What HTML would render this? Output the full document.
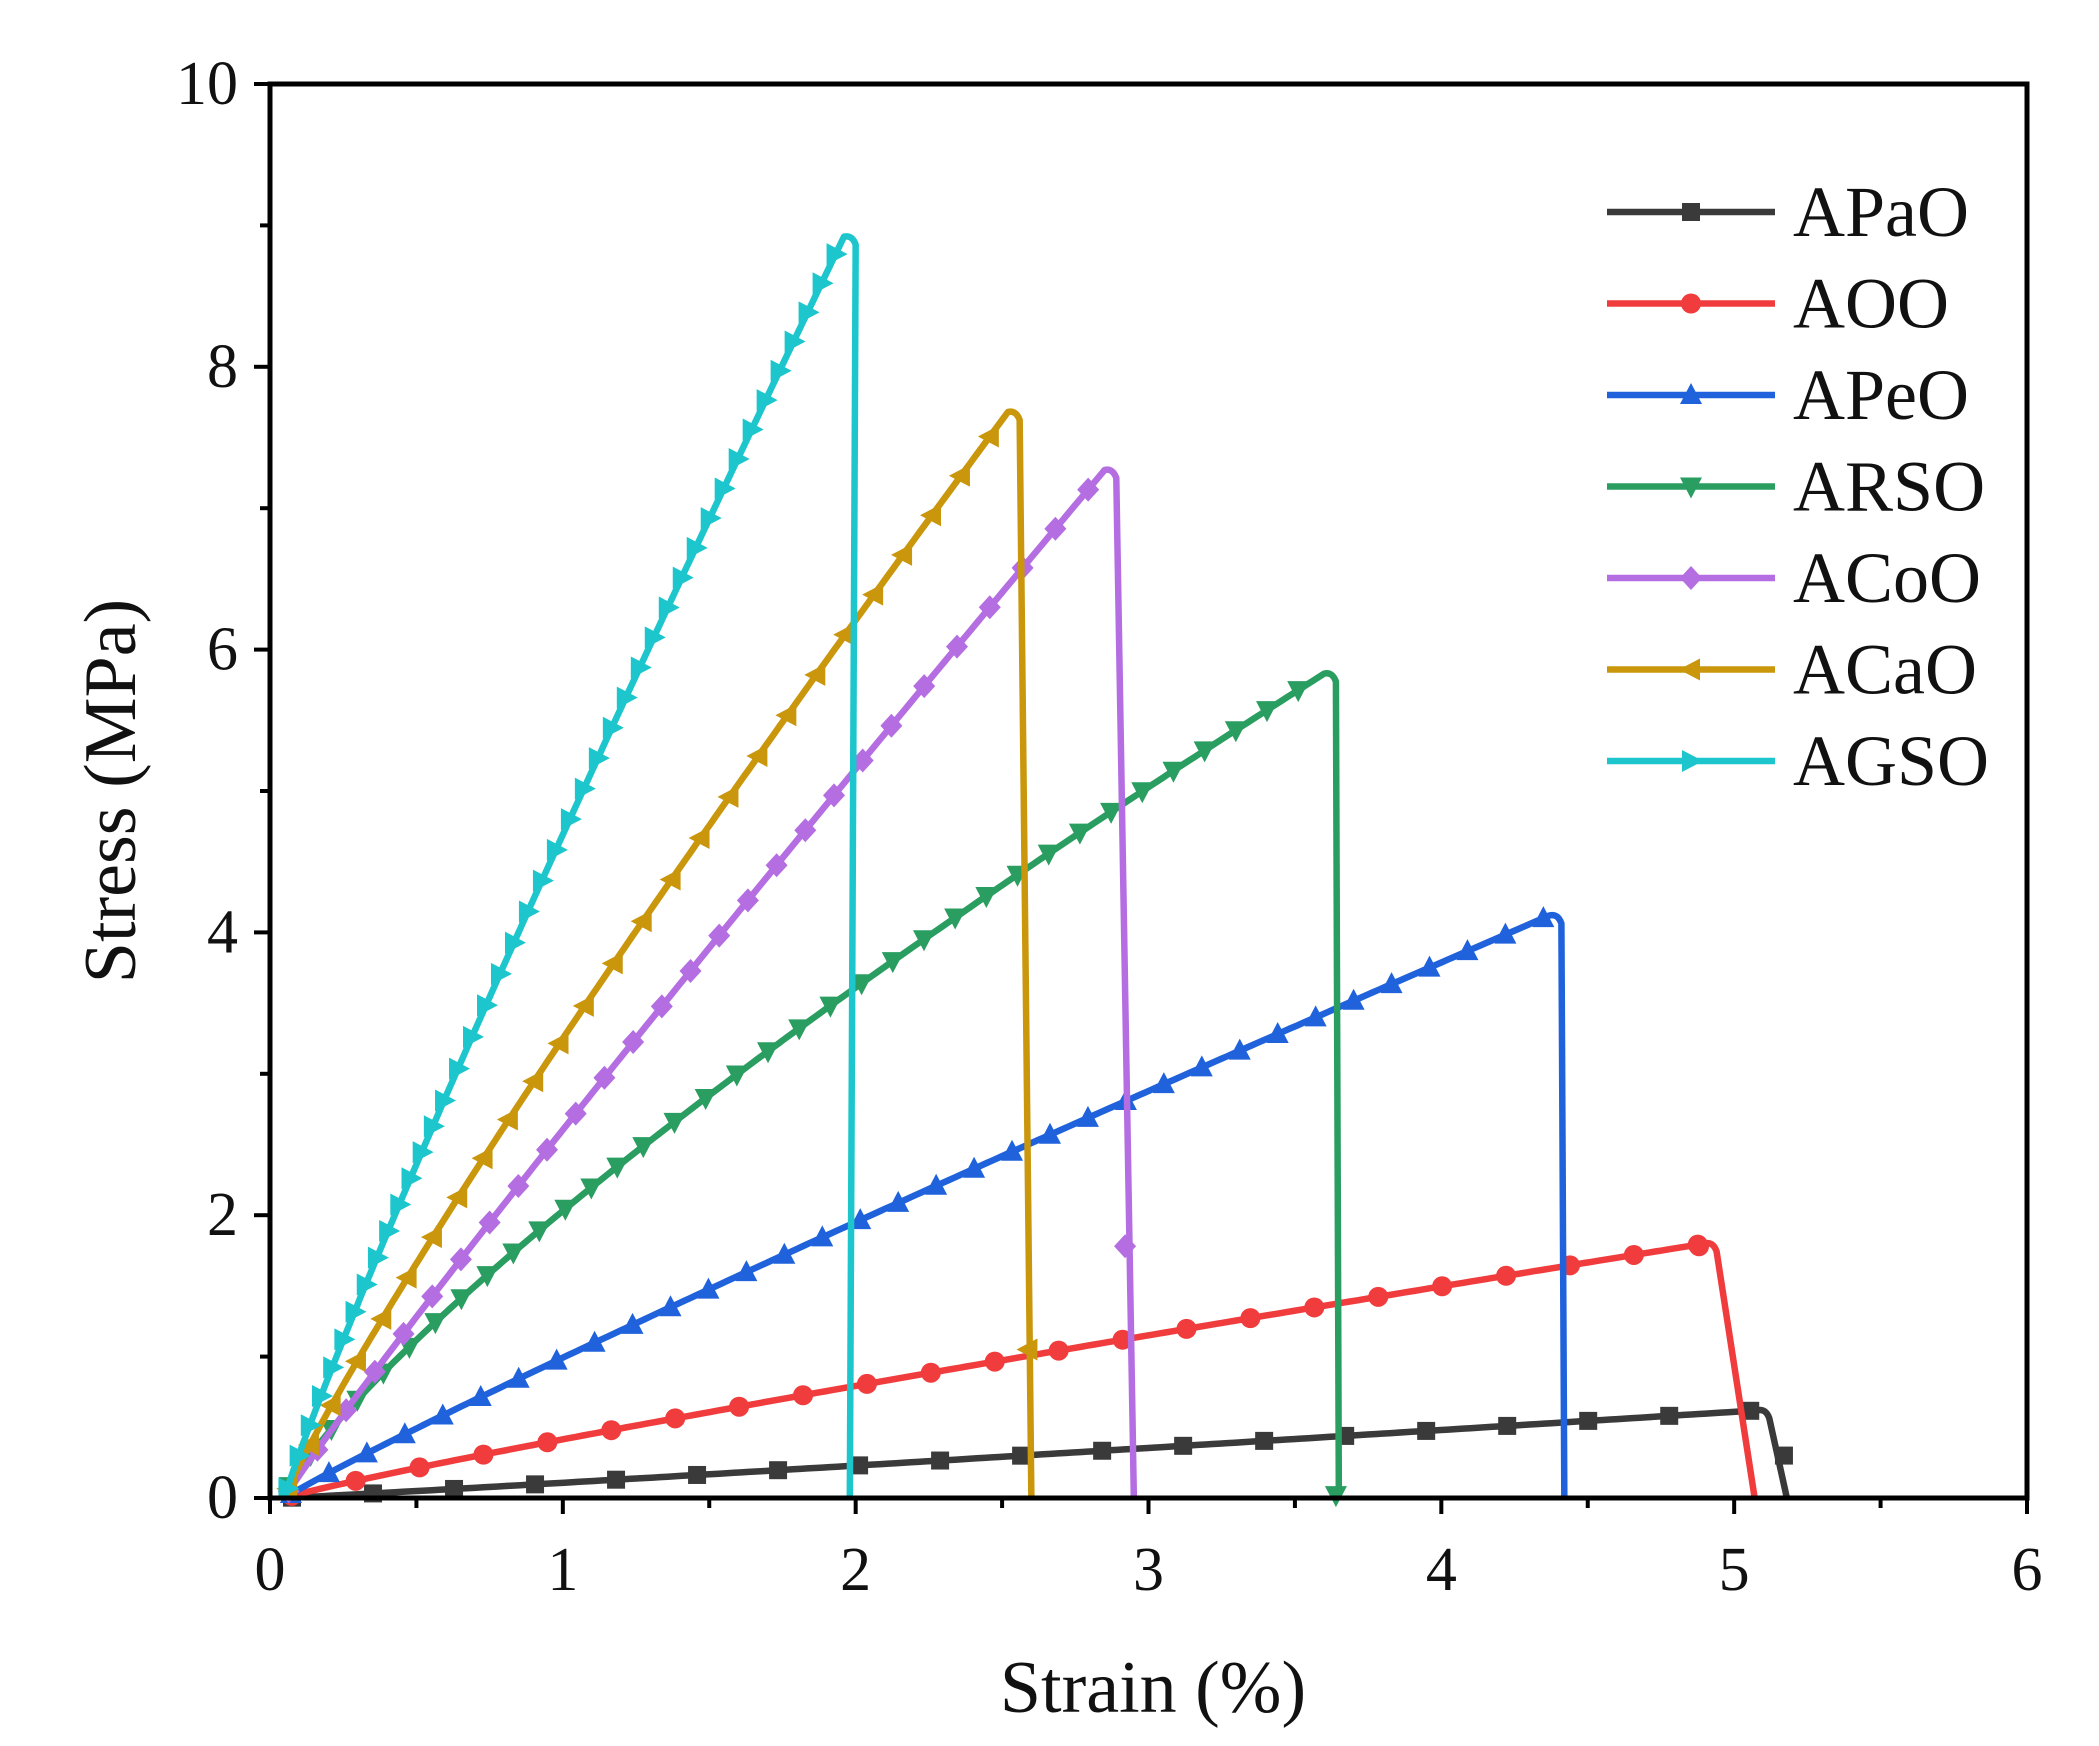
<!DOCTYPE html>
<html><head><meta charset="utf-8"><style>
html,body{margin:0;padding:0;background:#fff}
svg{display:block}
text{font-family:"Liberation Serif",serif;fill:#111}
</style></head><body>
<svg id="s" width="2099" height="1746" xmlns="http://www.w3.org/2000/svg">
<rect width="2099" height="1746" fill="#fff"/>
<g id="plot"></g>
<rect x="270" y="84" width="1757" height="1414" fill="none" stroke="#000" stroke-width="5"/>
<g id="ticks" stroke="#000" stroke-width="4"></g>
<g id="labels" font-size="62"></g>
<text x="1153" y="1712" font-size="74" text-anchor="middle">Strain (%)</text>
<text transform="translate(135,791) rotate(-90)" font-size="74" text-anchor="middle">Stress (MPa)</text>
<g id="legend" font-size="72"></g>
</svg>
<script>
const X0=270,X1=2027,Y0=1498,Y1=84;
const sx=x=>X0+x*(X1-X0)/6, sy=y=>Y0-y*(Y0-Y1)/10;
const NS="http://www.w3.org/2000/svg";
function el(t,a,p){const e=document.createElementNS(NS,t);for(const k in a)e.setAttribute(k,a[k]);p.appendChild(e);return e;}
const T=document.getElementById('ticks'),L=document.getElementById('labels');
for(let i=0;i<=12;i++){const x=sx(i/2),len=i%2?10:16;el('line',{x1:x,y1:Y0,x2:x,y2:Y0+len},T);}
for(let i=0;i<=6;i++){const t=el('text',{x:sx(i),y:1590,'text-anchor':'middle'},L);t.textContent=i;}
for(let i=0;i<=10;i++){const y=sy(i),len=i%2?10:16;el('line',{x1:X0,y1:y,x2:X0-len,y2:y},T);}
for(let i=0;i<=10;i+=2){const t=el('text',{x:238,y:sy(i)+20,'text-anchor':'end'},L);t.textContent=i;}
function marker(type,x,y,c,g){const r=11;
 if(type=='sq')el('rect',{x:x-r+2,y:y-r+2,width:2*r-4,height:2*r-4,fill:c},g);
 else if(type=='ci')el('circle',{cx:x,cy:y,r:r-1,fill:c},g);
 else{let p;
  if(type=='up')p=[[0,-r-1],[r,r-2],[-r,r-2]];
  if(type=='dn')p=[[0,r+1],[r,-r+2],[-r,-r+2]];
  if(type=='dm')p=[[0,-r-1],[r,0],[0,r+1],[-r,0]];
  if(type=='lt')p=[[-r-1,0],[r-2,-r],[r-2,r]];
  if(type=='rt')p=[[r+1,0],[-r+2,-r],[-r+2,r]];
  el('polygon',{points:p.map(q=>(x+q[0])+','+(y+q[1])).join(' '),fill:c},g);}
}
const S=[
 ['APaO','#3a3a3a','sq',5.08,0.62,1.05,5.18,80],
 ['AOO','#f03c3c','ci',4.9,1.8,0.9,5.07,62],
 ['APeO','#1f62dc','up',4.37,4.12,0.94,4.42,40],
 ['ARSO','#2a9d60','dn',3.6,5.83,0.8,3.65,33],
 ['ACoO','#b46ee2','dm',2.85,7.27,0.95,2.95,45],
 ['ACaO','#c9960c','lt',2.52,7.68,0.9,2.6,45],
 ['AGSO','#1cc6cc','rt',1.96,8.92,0.92,1.98,28]];
const P=document.getElementById('plot'),LG=document.getElementById('legend');
S.forEach((s,i)=>{const [n,c,m,xp,yp,p,xe,sp]=s;
 const pts=[];for(let k=0;k<=200;k++){const x=0.05+(xp-0.05)*k/200;pts.push([sx(x),sy(yp*Math.pow(k/200,p))]);}
 const dx=sx(xp+0.04)-sx(xp);
 let d='M'+pts.map(q=>q[0].toFixed(1)+','+q[1].toFixed(1)).join(' L');
 const px=sx(xp),py=sy(yp),ex=sx(xe);
 d+=` Q${px+dx*0.7},${py-2} ${px+dx},${py+8} L${ex},${Y0}`;
 const g=el('g',{},P);
 el('path',{d:d,fill:'none',stroke:c,'stroke-width':6.5,'stroke-linejoin':'round'},g);
 let acc=sp;for(let k=1;k<pts.length;k++){const a=pts[k-1],b=pts[k];acc+=Math.hypot(b[0]-a[0],b[1]-a[1]);if(acc>=sp){marker(m,b[0],b[1],c,g);acc=0;}}
 if(n=='APaO')marker(m,sx(5.17),sy(0.3),c,g);
 if(n=='AOO')marker(m,sx(4.88),sy(1.78),c,g);
 if(n=='ACoO')marker(m,sx(2.92),sy(1.78),c,g);
 if(n=='ACaO')marker(m,sx(2.59),sy(1.05),c,g);
 if(n=='ARSO')marker(m,sx(3.64),sy(0.02),c,g);
 const ly=212+i*91.5;
 el('line',{x1:1607,y1:ly,x2:1775,y2:ly,stroke:c,'stroke-width':6.5},LG);
 marker(m,1691,ly,c,LG);
 const t=el('text',{x:1793,y:ly+24},LG);t.textContent=n;
});
</script>
</body></html>
